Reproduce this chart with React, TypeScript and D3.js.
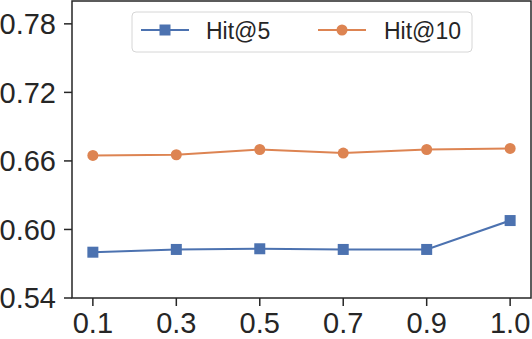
import * as d3 from "d3";
import React from "react";

const width = 532;
const height = 339;
const margin = { top: 1, right: 1, bottom: 41, left: 72 };

const categories = ["0.1", "0.3", "0.5", "0.7", "0.9", "1.0"];
const hit5 = [0.5801, 0.5825, 0.5831, 0.5825, 0.5825, 0.6078];
const hit10 = [0.6648, 0.6654, 0.67, 0.6669, 0.67, 0.6709];
const yTicks = [0.54, 0.6, 0.66, 0.72, 0.78];

const blue = "#4c72b0";
const orange = "#dd8452";
const ink = "#262626";
const font = "'Liberation Sans', Arial, sans-serif";

const App = () => {
  const xScale = d3
    .scalePoint()
    .domain(categories)
    .range([margin.left, width - margin.right])
    .padding(0.25);

  const yScale = d3
    .scaleLinear()
    .domain([0.54, 0.8])
    .range([height - margin.bottom, margin.top]);

  const line = d3
    .line<number>()
    .x((d, i) => xScale(categories[i]) as number)
    .y((d) => yScale(d));

  const plotBottom = height - margin.bottom;

  return (
    <svg
      width={width}
      height={height}
      style={{ position: "absolute", left: 0, top: 0, background: "#fff" }}
      fontFamily={font}
    >
      {/* series */}
      <path d={line(hit10) || ""} fill="none" stroke={orange} strokeWidth={2} />
      {hit10.map((d, i) => (
        <circle
          key={"c" + i}
          cx={xScale(categories[i])}
          cy={yScale(d)}
          r={5.5}
          fill={orange}
        />
      ))}
      <path d={line(hit5) || ""} fill="none" stroke={blue} strokeWidth={2} />
      {hit5.map((d, i) => (
        <rect
          key={"s" + i}
          x={(xScale(categories[i]) as number) - 5.5}
          y={yScale(d) - 5.5}
          width={11}
          height={11}
          fill={blue}
        />
      ))}

      {/* frame */}
      <rect
        x={margin.left}
        y={margin.top}
        width={width - margin.right - margin.left}
        height={plotBottom - margin.top}
        fill="none"
        stroke={ink}
        strokeWidth={1.5}
      />

      {/* y axis */}
      {yTicks.map((t) => (
        <g key={t} transform={`translate(${margin.left}, ${yScale(t)})`}>
          <line x1={-8} x2={0} stroke={ink} strokeWidth={1.5} />
          <text
            x={-16}
            dy="0.36em"
            textAnchor="end"
            fontSize={29}
            fill={ink}
          >
            {t.toFixed(2)}
          </text>
        </g>
      ))}

      {/* x axis */}
      {categories.map((c) => (
        <g key={c} transform={`translate(${xScale(c)}, ${plotBottom})`}>
          <line y1={0} y2={8} stroke={ink} strokeWidth={1.5} />
          <text y={35} textAnchor="middle" fontSize={29} fill={ink}>
            {c}
          </text>
        </g>
      ))}

      {/* legend */}
      <g>
        <rect
          x={132}
          y={12}
          width={340}
          height={40}
          rx={4}
          fill="#fff"
          fillOpacity={0.8}
          stroke="#d6d6d6"
          strokeWidth={1}
        />
        <line x1={141} x2={189} y1={30} y2={30} stroke={blue} strokeWidth={2} />
        <rect x={159.5} y={24.5} width={11} height={11} fill={blue} />
        <text x={206} y={38.5} fontSize={23} fill={ink}>
          Hit@5
        </text>
        <line x1={318} x2={366} y1={30} y2={30} stroke={orange} strokeWidth={2} />
        <circle cx={342} cy={30} r={5.5} fill={orange} />
        <text x={384} y={38.5} fontSize={23} fill={ink}>
          Hit@10
        </text>
      </g>
    </svg>
  );
};

export default App;
